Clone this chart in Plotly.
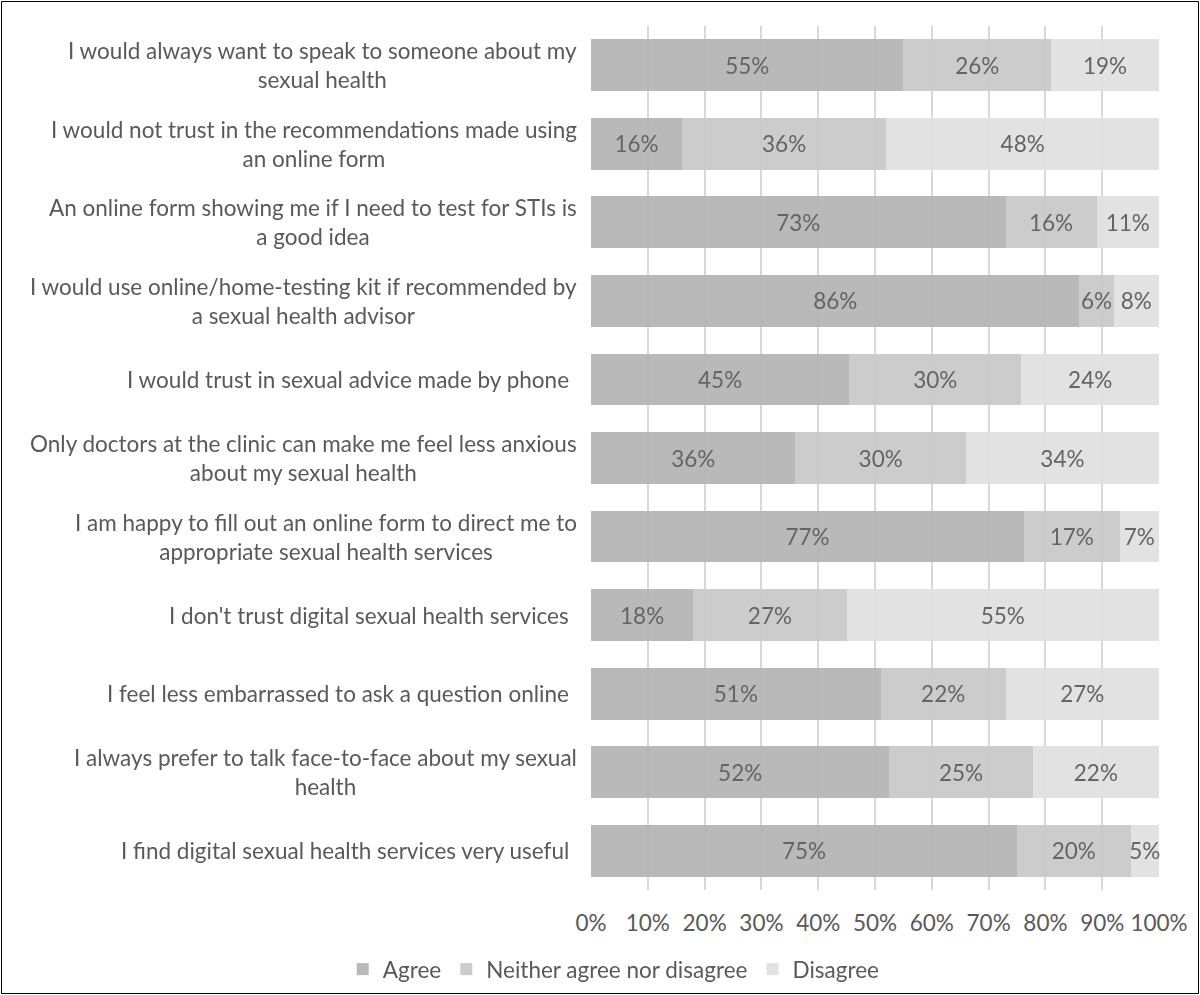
import plotly.graph_objects as go

categories = [
    "I would always want to speak to someone about my<br>sexual health",
    "I would not trust in the recommendations made using<br>an online form",
    "An online form showing me if I need to test for STIs is<br>a good idea",
    "I would use online/home-testing kit if recommended by<br>a sexual health advisor",
    "I would trust in sexual advice made by phone",
    "Only doctors at the clinic can make me feel less anxious<br>about my sexual health",
    "I am happy to fill out an online form to direct me to<br>appropriate sexual health services",
    "I don't trust digital sexual health services",
    "I feel less embarrassed to ask a question online",
    "I always prefer to talk face-to-face about my sexual<br>health",
    "I find digital sexual health services very useful",
]
agree = [55, 16, 73, 86, 45, 36, 77, 18, 51, 52, 75]
neither = [26, 36, 16, 6, 30, 30, 17, 27, 22, 25, 20]
disagree = [19, 48, 11, 8, 24, 34, 7, 55, 27, 22, 5]
series_names = ["Agree", "Neither agree nor disagree", "Disagree"]
x_ticks = list(range(0, 101, 10))

W, H = 1200, 995
L, R, T, B = 591, 41, 26, 105
FONT = "Lato, Open Sans, sans-serif"
TXT = "#595959"
FS = 22.5
colors = ["#b4b4b4", "#c9c9c9", "#e0e0e0"]

fig = go.Figure()
for name, vals, col in zip(series_names, [agree, neither, disagree], colors):
    fig.add_trace(go.Bar(
        name=name, y=categories, x=vals, orientation="h",
        marker=dict(color=col, line=dict(width=0)),
        opacity=0.93,
        text=[f"{v}%" for v in vals], textposition="inside", textangle=0,
        insidetextanchor="middle", cliponaxis=False, constraintext="none",
        textfont=dict(color=TXT, size=FS, family=FONT),
        hoverinfo="skip",
    ))

for c in categories:
    two_line = "<br>" in c
    fig.add_annotation(x=0, y=c, xref="paper", yref="y", text=c,
                       xanchor="right", yanchor="middle", align="center",
                       xshift=-12 if two_line else -20, showarrow=False,
                       font=dict(size=FS, color=TXT, family=FONT))

pw, ph = W - L - R, H - T - B
fig.add_shape(type="rect", xref="paper", yref="paper",
              x0=(1.5 - L) / pw, x1=(W - 1.5 - L) / pw,
              y0=-(H - 1.5 - T - ph) / ph, y1=1 + (T - 1.5) / ph,
              line=dict(color="#000000", width=1), layer="above")

fig.update_layout(
    width=W, height=H, barmode="stack", barnorm="percent", bargap=0.34,
    margin=dict(l=L, r=R, t=T, b=B, autoexpand=False),
    paper_bgcolor="white", plot_bgcolor="white",
    font=dict(family=FONT, color=TXT, size=FS),
    uniformtext=dict(minsize=FS, mode="show"),
    xaxis=dict(range=[0, 100.001], tickvals=x_ticks, ticktext=[f"{v}%" for v in x_ticks],
               showgrid=True, gridcolor="#d9d9d9", gridwidth=1.5, zeroline=False,
               ticks="", ticklabelstandoff=17, tickfont=dict(size=FS, color=TXT),
               fixedrange=True),
    yaxis=dict(autorange="reversed", showticklabels=False, showgrid=False,
               showline=False, zeroline=False, ticks=""),
    legend=dict(orientation="h", x=0.04, xanchor="center", y=-0.092, yanchor="middle",
                font=dict(size=FS, color=TXT), traceorder="normal",
                itemwidth=30, bgcolor="rgba(0,0,0,0)"),
    showlegend=True,
)

fig.write_html("out.html")
